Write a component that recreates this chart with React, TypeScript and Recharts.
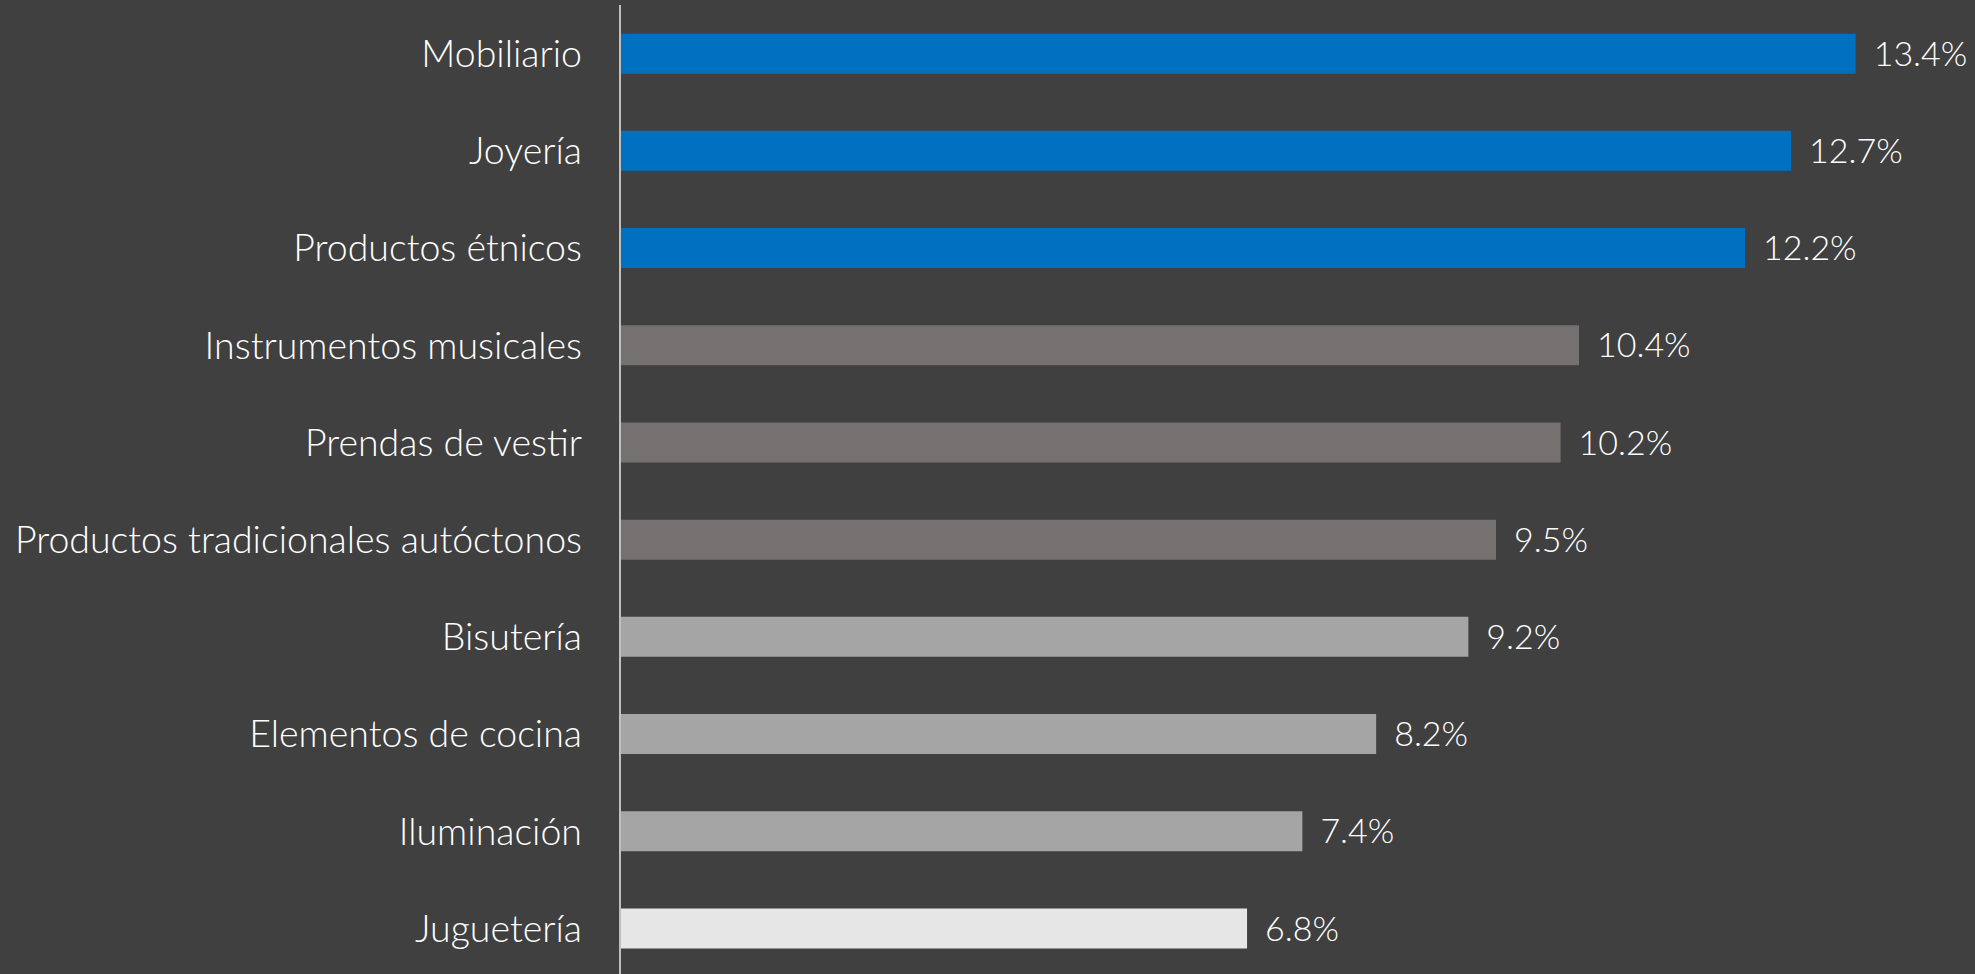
import React from 'react';
import { BarChart, Bar, XAxis, YAxis, Cell, LabelList } from 'recharts';

const categories = [
  'Mobiliario',
  'Joyería',
  'Productos étnicos',
  'Instrumentos musicales',
  'Prendas de vestir',
  'Productos tradicionales autóctonos',
  'Bisutería',
  'Elementos de cocina',
  'Iluminación',
  'Juguetería',
];
const values = [13.4, 12.7, 12.2, 10.4, 10.2, 9.5, 9.2, 8.2, 7.4, 6.8];
const tiers = [0, 0, 0, 1, 1, 1, 2, 2, 2, 3];
const tierColors = ['#0070C0', '#767171', '#A5A5A5', '#E7E6E6'];

const data = categories.map((name, i) => ({ name, value: values[i], tier: tiers[i] }));

const FONT = 'Lato, "Open Sans", sans-serif';

export default function App() {
  return (
    <div style={{ position: 'absolute', left: 0, top: 0, width: 1975, height: 974, background: '#404040', overflow: 'hidden' }}>
      <BarChart
        width={1975}
        height={980}
        data={data}
        layout="vertical"
        margin={{ top: 5, right: 64, left: 0, bottom: 3 }}
        barCategoryGap="29.5%"
      >
        <XAxis type="number" domain={[0, 14]} hide />
        <YAxis
          type="category"
          dataKey="name"
          width={620}
          tickLine={false}
          axisLine={{ stroke: '#BFBFBF', strokeWidth: 2 }}
          tickMargin={32}
          interval={0}
          tick={{ fill: '#FFFFFF', fontSize: 37.5, fontFamily: FONT, fontWeight: 300 }}
        />
        <Bar dataKey="value" isAnimationActive={false}>
          {data.map((d, i) => (
            <Cell key={i} fill={tierColors[d.tier]} />
          ))}
          <LabelList
            dataKey="value"
            position="right"
            offset={18}
            formatter={(v: number) => `${v.toFixed(1)}%`}
            style={{ fill: '#FFFFFF', fontSize: 34, fontFamily: FONT, fontWeight: 300 }}
          />
        </Bar>
      </BarChart>
    </div>
  );
}
